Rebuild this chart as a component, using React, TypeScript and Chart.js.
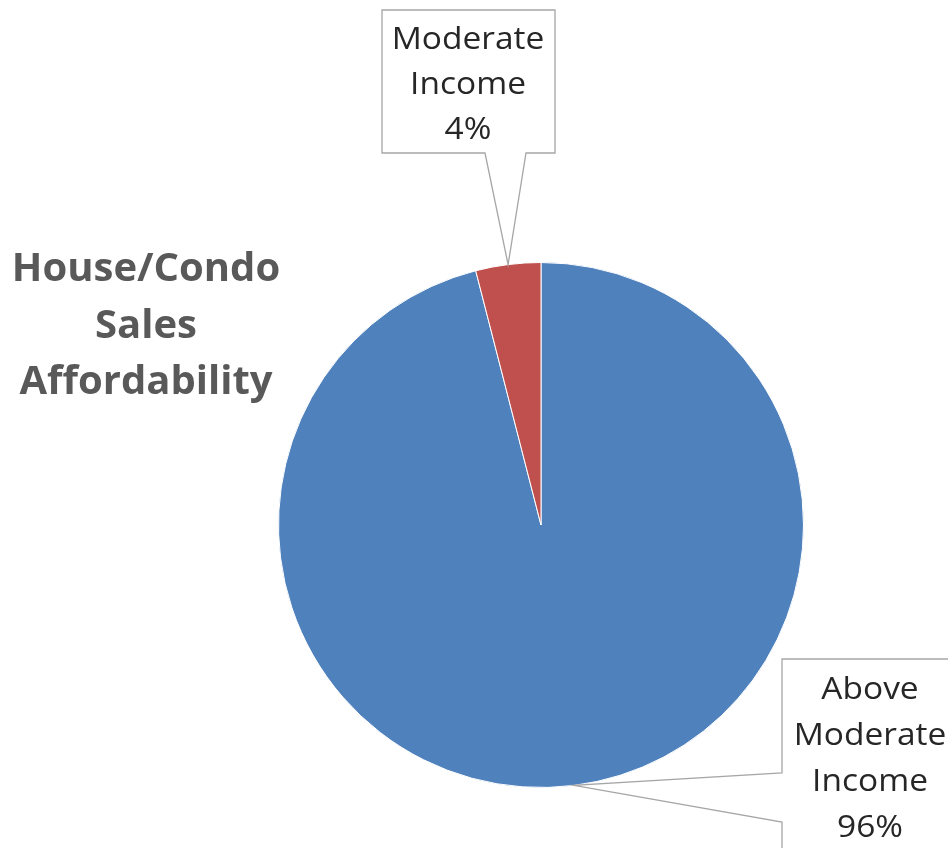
import React, { useEffect, useRef } from "react";
import { Chart, registerables } from "chart.js";

Chart.register(...registerables);

const categories: string[] = ["Above Moderate Income", "Moderate Income"];
const shares: number[] = [96, 4];
const sliceColors: string[] = ["#4F81BD", "#C0504D"];
const labelLines: string[][] = [
  ["Above", "Moderate", "Income", "96%"],
  ["Moderate", "Income", "4%"],
];
const titleLines: string[] = ["House/Condo", "Sales", "Affordability"];

const FONT = "'Open Sans', Lato, sans-serif";

type Box = { l: number; t: number; r: number; b: number; cx: number; y0: number; lh: number; side: "bottom" | "left"; p1: number; p2: number };
const boxes: Box[] = [
  { l: 782, t: 659, r: 958, b: 860, cx: 870, y0: 690, lh: 46, side: "left", p1: 773, p2: 822 },
  { l: 382, t: 10, r: 555, b: 153, cx: 468, y0: 40, lh: 45, side: "bottom", p1: 485, p2: 526 },
];

const drawStretched = (ctx: CanvasRenderingContext2D, s: string, x: number, y: number, sx: number) => {
  ctx.save();
  ctx.translate(x, y);
  ctx.scale(sx, 1);
  ctx.fillText(s, 0, 0);
  ctx.restore();
};

const calloutPlugin = {
  id: "callouts",
  afterDraw(chart: any) {
    const ctx = chart.ctx as CanvasRenderingContext2D;
    const meta = chart.getDatasetMeta(0);
    ctx.save();
    ctx.fillStyle = "#595959";
    ctx.font = `bold 40px ${FONT}`;
    ctx.textAlign = "center";
    ctx.textBaseline = "middle";
    const ty = [270, 327, 383];
    titleLines.forEach((s, i) => ctx.fillText(s, 146, ty[i]));

    meta.data.forEach((arc: any, i: number) => {
      const { x, y, startAngle, endAngle, outerRadius } = arc.getProps(["x", "y", "startAngle", "endAngle", "outerRadius"], true);
      const mid = (startAngle + endAngle) / 2;
      const tx = x + Math.cos(mid) * outerRadius;
      const tyy = y + Math.sin(mid) * outerRadius;
      const bx = boxes[i];
      ctx.beginPath();
      if (bx.side === "bottom") {
        ctx.moveTo(bx.l, bx.t);
        ctx.lineTo(bx.r, bx.t);
        ctx.lineTo(bx.r, bx.b);
        ctx.lineTo(bx.p2, bx.b);
        ctx.lineTo(tx, tyy);
        ctx.lineTo(bx.p1, bx.b);
        ctx.lineTo(bx.l, bx.b);
        ctx.closePath();
      } else {
        ctx.moveTo(bx.l, bx.t);
        ctx.lineTo(bx.r, bx.t);
        ctx.lineTo(bx.r, bx.b);
        ctx.lineTo(bx.l, bx.b);
        ctx.lineTo(bx.l, bx.p2);
        ctx.lineTo(tx, tyy);
        ctx.lineTo(bx.l, bx.p1);
        ctx.closePath();
      }
      ctx.fillStyle = "#FFFFFF";
      ctx.fill();
      ctx.strokeStyle = "#A6A6A6";
      ctx.lineWidth = 1.3;
      ctx.stroke();
      ctx.fillStyle = "#262626";
      ctx.font = `31px ${FONT}`;
      ctx.textAlign = "center";
      ctx.textBaseline = "middle";
      labelLines[i].forEach((s, k) => drawStretched(ctx, s, bx.cx, bx.y0 + k * bx.lh, 1.08));
    });
    ctx.restore();
  },
};

export default function App() {
  const ref = useRef<HTMLCanvasElement>(null);
  useEffect(() => {
    document.body.style.margin = "0";
    const chart = new Chart(ref.current!, {
      type: "pie",
      data: {
        labels: categories,
        datasets: [
          {
            data: shares,
            backgroundColor: sliceColors,
            borderColor: "#FFFFFF",
            borderWidth: 1,
          },
        ],
      },
      options: {
        responsive: false,
        animation: false,
        layout: { padding: { left: 278, right: 144, top: 262, bottom: 60 } },
        plugins: { legend: { display: false }, tooltip: { enabled: false }, title: { display: false } },
      },
      plugins: [calloutPlugin],
    });
    return () => chart.destroy();
  }, []);
  return (
    <div style={{ width: 948, height: 848, background: "#fff" }}>
      <canvas ref={ref} width={948} height={848} style={{ display: "block" }} />
    </div>
  );
}
